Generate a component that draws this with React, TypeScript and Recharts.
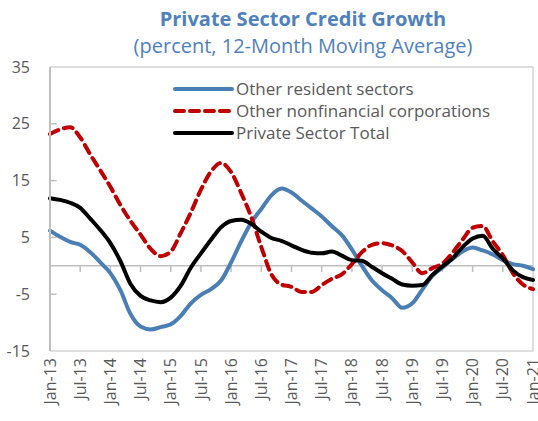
import React from 'react';
import {
  LineChart, Line, XAxis, YAxis, ReferenceLine, ReferenceArea,
} from 'recharts';

// month index from Jan-13 (0) to Jan-21 (96)
const months = [
  0, 2, 4, 6, 8, 10, 12, 14, 16, 18, 20, 22, 24, 26, 28, 30, 32, 34, 36, 38, 40, 42, 44, 46, 48,
  50, 52, 54, 56, 58, 60, 62, 64, 66, 68, 70, 72, 74, 76, 78, 80, 82, 84, 86, 88, 90, 92, 94, 96,
];

const otherResident = [
  6.2, 5.1, 4.2, 3.7, 2.4, 0.6, -1.3, -4.3, -8.5, -10.7, -11.2, -10.8, -10.3, -8.8, -6.6, -5.1, -4.1, -2.6, 0.6, 4.3, 7.6, 10.0, 12.4, 13.6, 12.9,
  11.5, 10.1, 8.7, 7.0, 5.4, 2.9, 0.0, -2.6, -4.3, -5.7, -7.4, -6.6, -4.2, -1.8, -0.3, 1.2, 2.5, 3.2, 2.7, 2.0, 1.0, 0.3, 0.0, -0.6,
];

const otherNonfin = [
  23.2, 24.0, 24.4, 22.6, 19.6, 16.8, 13.9, 10.7, 7.9, 5.5, 3.0, 1.7, 2.5, 5.8, 9.4, 13.4, 16.6, 18.1, 16.5, 12.8, 8.6, 3.3, -1.5, -3.3, -3.7,
  -4.6, -4.6, -3.4, -2.3, -1.5, 0.3, 2.4, 3.7, 4.0, 3.6, 2.6, 0.6, -1.3, -0.4, 0.4, 2.3, 4.6, 6.7, 7.0, 4.3, 1.9, -1.3, -3.3, -4.1,
];

const privateTotal = [
  11.9, 11.6, 11.1, 10.2, 8.3, 6.3, 4.0, 0.8, -3.2, -5.3, -6.1, -6.4, -5.6, -3.5, -0.3, 2.2, 4.6, 6.8, 7.9, 8.1, 7.4, 6.0, 4.9, 4.4, 3.6,
  2.8, 2.3, 2.2, 2.5, 1.8, 1.0, 0.9, -0.2, -1.3, -2.3, -3.3, -3.5, -3.4, -1.6, -0.1, 1.3, 3.3, 4.8, 5.3, 3.0, 1.3, -0.8, -2.0, -2.5,
];

const xLabels = [
  'Jan-13', 'Jul-13', 'Jan-14', 'Jul-14', 'Jan-15', 'Jul-15', 'Jan-16', 'Jul-16', 'Jan-17',
  'Jul-17', 'Jan-18', 'Jul-18', 'Jan-19', 'Jul-19', 'Jan-20', 'Jul-20', 'Jan-21',
];
const xTicks = xLabels.map((_, i) => i * 6);
const yTicks = [35, 25, 15, 5, -5, -15];

const series = [
  { key: 'ors', name: 'Other resident sectors', color: '#4A7FB5', dash: undefined as string | undefined },
  { key: 'onc', name: 'Other nonfinancial corporations', color: '#C00000', dash: '9 6' },
  { key: 'pst', name: 'Private Sector Total', color: '#000000', dash: undefined as string | undefined },
];

const data = months.map((m, i) => ({
  m,
  ors: otherResident[i],
  onc: otherNonfin[i],
  pst: privateTotal[i],
}));

const FONT = '"Open Sans", "Noto Sans", sans-serif';
const TEXT = '#595959';

function XTick(props: any) {
  const { x, y, payload } = props;
  return (
    <g transform={`translate(${x},${y})`}>
      <text transform="rotate(-90)" textAnchor="end" dy="0.35em" fontSize={16} fill={TEXT} fontFamily={FONT}>
        {xLabels[Math.round(payload.value / 6)]}
      </text>
    </g>
  );
}

function LegendBox() {
  return (
    <div style={{
      position: 'absolute', left: 172, top: 78, fontFamily: FONT, fontSize: 17, color: TEXT, lineHeight: '22px',
    }}>
      {series.map((s) => (
        <div key={s.key} style={{ display: 'flex', alignItems: 'center', whiteSpace: 'nowrap' }}>
          <svg width={64} height={22}>
            <line x1={3} y1={11} x2={60} y2={11} stroke={s.color} strokeWidth={4}
              strokeDasharray={s.dash} strokeLinecap="round" />
          </svg>
          <span>{s.name}</span>
        </div>
      ))}
    </div>
  );
}

export default function App() {
  return (
    <div style={{ position: 'absolute', left: 0, top: 0, width: 538, height: 421, background: '#fff' }}>
      <div style={{
        position: 'absolute', left: 303, top: 5, transform: 'translateX(-50%)', whiteSpace: 'nowrap',
        fontFamily: FONT, color: '#4F81BD', textAlign: 'center',
      }}>
        <div style={{ fontSize: 20, fontWeight: 700, lineHeight: '27px' }}>Private Sector Credit Growth</div>
        <div style={{ fontSize: 20, lineHeight: '27px' }}>(percent, 12-Month Moving Average)</div>
      </div>
      <LineChart width={538} height={421} data={data} margin={{ top: 67, right: 5, left: 0, bottom: 0 }}>
        <ReferenceArea x1={0} x2={96} y1={-15} y2={35} fill="none" stroke="#BFBFBF" strokeWidth={1} ifOverflow="visible" />
        <XAxis
          dataKey="m"
          type="number"
          domain={[0, 96]}
          ticks={xTicks}
          tick={<XTick />}
          tickLine={false}
          axisLine={false}
          tickSize={7}
          tickMargin={0}
          height={70}
          interval={0}
        />
        <YAxis
          type="number"
          domain={[-15, 35]}
          ticks={yTicks}
          tick={{ fontSize: 16, fill: TEXT, fontFamily: FONT }}
          tickLine={false}
          axisLine={{ stroke: '#BFBFBF', strokeWidth: 2 }}
          tickSize={0}
          tickMargin={20}
          width={50}
          interval={0}
        />
        <ReferenceLine y={0} stroke="#BFBFBF" strokeWidth={1.5} />
        {xTicks.slice(1, -1).map((m) => (
          <ReferenceLine key={`xt-${m}`} segment={[{ x: m, y: 0 }, { x: m, y: -1.1 }]} stroke="#BFBFBF" strokeWidth={1.5} />
        ))}
        {[25, 15, 5, -5].map((v) => (
          <ReferenceLine key={`yt-${v}`} segment={[{ x: 0, y: v }, { x: 1.3, y: v }]} stroke="#BFBFBF" strokeWidth={1.5} />
        ))}
        {series.map((s) => (
          <Line
            key={s.key}
            type="monotone"
            dataKey={s.key}
            name={s.name}
            stroke={s.color}
            strokeWidth={4}
            strokeDasharray={s.dash}
            strokeLinecap="round"
            dot={false}
            activeDot={false}
            isAnimationActive={false}
          />
        ))}
      </LineChart>
      <LegendBox />
    </div>
  );
}
